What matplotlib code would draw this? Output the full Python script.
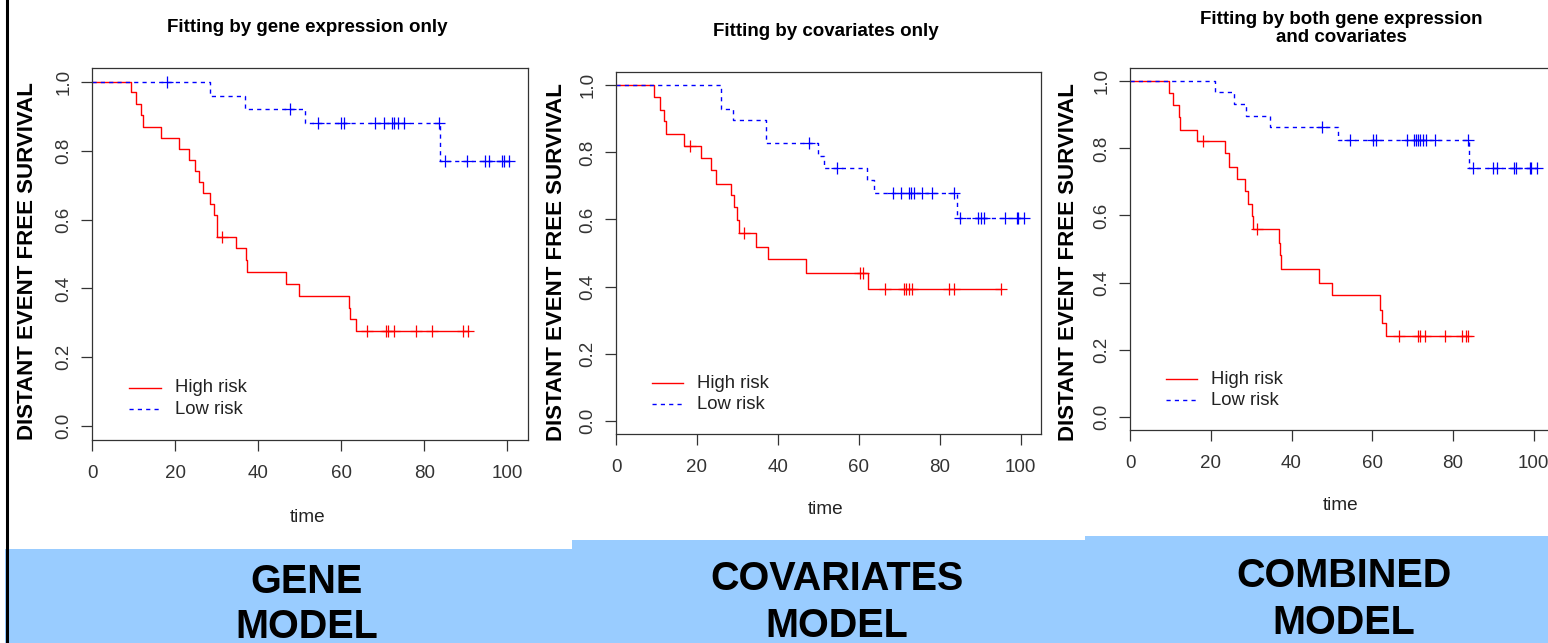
import numpy as np
import matplotlib
matplotlib.use("Agg")
import matplotlib.pyplot as plt
from matplotlib.lines import Line2D
from matplotlib.patches import Rectangle

plt.rcParams['font.family'] = ['Liberation Sans', 'DejaVu Sans']

W, H = 1548, 643

# ---------------- data ----------------
titles = [["Fitting by gene expression only"],
          ["Fitting by covariates only"],
          ["Fitting by both gene expression", "and covariates"]]
band_labels = [["GENE", "MODEL"], ["COVARIATES", "MODEL"], ["COMBINED", "MODEL"]]
ylabel = "DISTANT EVENT FREE SURVIVAL"
xlabel = "time"
legend_labels = ["High risk", "Low risk"]
xticks = [0, 20, 40, 60, 80, 100]
yticks = [0.0, 0.2, 0.4, 0.6, 0.8, 1.0]

# Panel 1: gene model
gene_high_t = [9.5, 10.6, 11.8, 12.3, 16.7, 21.0, 23.4, 24.8, 25.7, 26.8, 28.4,
               29.3, 30.0, 30.2, 34.6, 37.2, 37.4, 46.8, 49.8, 61.9, 62.2, 63.5]
gene_high_s = [0.969, 0.935, 0.903, 0.869, 0.837, 0.806, 0.773, 0.740, 0.709,
               0.677, 0.646, 0.612, 0.581, 0.549, 0.516, 0.482, 0.448, 0.412,
               0.378, 0.344, 0.310, 0.276]
gene_high_cens = [31.4, 66.3, 70.8, 71.2, 72.7, 78.0, 81.9, 89.3, 90.5]
gene_low_t = [28.4, 36.8, 51.4, 83.9]
gene_low_s = [0.960, 0.921, 0.881, 0.770]
gene_low_cens = [18.1, 47.6, 54.4, 60.0, 60.8, 68.2, 70.4, 72.2, 72.8, 73.6,
                 75.2, 83.5, 84.9, 90.2, 94.7, 95.7, 98.7, 99.3, 100.5]

# Panel 2: covariates model
cov_high_t = [9.5, 10.8, 11.8, 12.3, 16.7, 21.1, 23.5, 24.7, 28.4, 29.2, 30.0,
              30.3, 34.7, 37.5, 46.9, 62.2]
cov_high_s = [0.965, 0.928, 0.893, 0.856, 0.820, 0.784, 0.747, 0.707, 0.672,
              0.636, 0.598, 0.560, 0.518, 0.481, 0.441, 0.392]
cov_high_cens = [18.2, 31.5, 60.3, 61.0, 66.5, 71.2, 71.6, 72.3, 73.1, 82.3,
                 83.5, 95.1]
cov_low_t = [25.9, 28.8, 37.0, 50.0, 51.4, 62.0, 63.8, 84.2]
cov_low_s = [0.930, 0.896, 0.828, 0.789, 0.755, 0.719, 0.679, 0.604]
cov_low_cens = [47.8, 54.6, 68.4, 70.5, 72.4, 72.9, 73.5, 75.6, 78.0, 83.6,
                84.9, 89.5, 90.1, 90.8, 96.1, 99.0, 99.4, 100.8]

# Panel 3: combined model
comb_high_t = [9.7, 10.7, 12.1, 12.5, 16.7, 23.6, 24.5, 26.6, 28.4, 29.2, 30.1,
               30.5, 36.9, 37.2, 37.5, 46.8, 49.9, 61.9, 62.3, 63.5]
comb_high_s = [0.965, 0.929, 0.894, 0.855, 0.821, 0.785, 0.746, 0.708, 0.673,
               0.635, 0.598, 0.561, 0.518, 0.481, 0.441, 0.399, 0.362, 0.319,
               0.279, 0.239]
comb_high_cens = [18.2, 31.5, 66.6, 71.3, 71.9, 73.0, 78.1, 82.1, 83.3, 83.7]
comb_low_t = [21.0, 25.8, 28.7, 34.6, 51.4, 84.0]
comb_low_s = [0.967, 0.932, 0.897, 0.864, 0.825, 0.743]
comb_low_cens = [47.6, 54.4, 60.2, 61.0, 68.5, 70.3, 70.8, 71.3, 71.9, 72.6,
                 73.4, 75.5, 83.6, 85.0, 89.9, 90.8, 95.1, 95.7, 99.0, 99.4, 100.9]

panels = [
    (gene_high_t, gene_high_s, gene_high_cens, gene_low_t, gene_low_s, gene_low_cens),
    (cov_high_t, cov_high_s, cov_high_cens, cov_low_t, cov_low_s, cov_low_cens),
    (comb_high_t, comb_high_s, comb_high_cens, comb_low_t, comb_low_s, comb_low_cens),
]

# ---------------- layout (pixels) ----------------
axes_px = [(92, 528, 68, 440), (616, 1041, 72, 434), (1130, 1554, 68, 430)]
title_px = [(307, [27]), (826, [32]), (1341, [19, 38])]
ylab_px = [(28, 261), (556, 262), (1068, 262)]
xlab_px = [(308, 518), (826, 509), (1341, 505)]
bands_px = [(5, 572, 549), (572, 1085, 540), (1085, 1548, 536)]
band_text_px = [(307, 593, 638), (837, 590, 637), (1344, 587, 634)]

RED = "#FF0000"
BLUE = "#0000FF"
AXC = "#333333"

fig = plt.figure(figsize=(W / 100, H / 100), dpi=100)
fig.patch.set_facecolor("white")


def fx(px):
    return px / W


def fy(py):
    return 1 - py / H


def km_curve(ax, t, s, cens, color, ls):
    end = max(cens + t)
    tt = [0] + list(t) + [end]
    ss = [1.0] + list(s) + [s[-1]]
    line, = ax.step(tt, ss, where="post", color=color, lw=1.0, linestyle=ls)
    if ls == "--":
        line.set_dashes((3, 3))
    t_arr = np.asarray(t)
    s_arr = np.concatenate([[1.0], np.asarray(s)])
    cy = [s_arr[np.searchsorted(t_arr, c, side="right")] for c in cens]
    ax.plot(cens, cy, linestyle="none", marker="+", ms=9, mew=0.9, color=color)


for i, (ht, hs, hc, lt, ls_, lc) in enumerate(panels):
    l, r, t, b = axes_px[i]
    ax = fig.add_axes([fx(l), fy(b), (r - l) / W, (b - t) / H])
    km_curve(ax, ht, hs, hc, RED, "-")
    km_curve(ax, lt, ls_, lc, BLUE, "--")
    ax.set_xlim(0, 105)
    ax.set_ylim(-0.04, 1.04)
    ax.set_xticks(xticks)
    ax.set_yticks(yticks)
    ax.set_xticklabels([str(v) for v in xticks])
    ax.set_yticklabels([f"{v:.1f}" for v in yticks], rotation=90, va="center")
    ax.tick_params(axis="both", direction="out", length=8, width=0.9,
                   colors=AXC, labelsize=13.5, labelcolor="#333333")
    ax.tick_params(axis="x", pad=10)
    ax.tick_params(axis="y", pad=6)
    for sp in ax.spines.values():
        sp.set_color(AXC)
        sp.set_linewidth(0.9)
    # legend (R style, placed in data coordinates)
    ax.plot([9.0, 16.6], [0.111, 0.111], color=RED, lw=1.0)
    lo, = ax.plot([9.0, 16.6], [0.049, 0.049], color=BLUE, lw=1.0, linestyle="--")
    lo.set_dashes((3, 3))
    ax.text(20.0, 0.111, legend_labels[0], fontsize=13.3, va="center", ha="left", color="#222222")
    ax.text(20.0, 0.049, legend_labels[1], fontsize=13.3, va="center", ha="left", color="#222222")

    # titles and axis labels
    tx, tys = title_px[i]
    for line_txt, ty in zip(titles[i], tys):
        fig.text(fx(tx), fy(ty), line_txt, fontsize=13.5, fontweight="bold",
                 ha="center", va="center")
    yx, yy = ylab_px[i]
    fig.text(fx(yx), fy(yy), ylabel, fontsize=16, fontweight="bold",
             rotation=90, ha="center", va="center")
    lx, lyy = xlab_px[i]
    fig.text(fx(lx), fy(lyy), xlabel, fontsize=13.7, ha="center", va="center",
             color="#222222")

# bottom light-blue bands with model names
for (x0, x1, top), (cx, b1, b2), lab in zip(bands_px, band_text_px, band_labels):
    fig.add_artist(Rectangle((fx(x0), 0), (x1 - x0) / W, (H - top) / H,
                             transform=fig.transFigure, facecolor="#99CCFF",
                             edgecolor="none", zorder=0))
    fig.text(fx(cx), fy(b1), lab[0], fontsize=28.5, fontweight="bold", ha="center", va="baseline")
    fig.text(fx(cx), fy(b2), lab[1], fontsize=28.5, fontweight="bold", ha="center", va="baseline")

# left border line
fig.add_artist(Line2D([fx(6.5), fx(6.5)], [0, 1], transform=fig.transFigure,
                      color="black", lw=2.2))

fig.savefig("out.png", dpi=100)
